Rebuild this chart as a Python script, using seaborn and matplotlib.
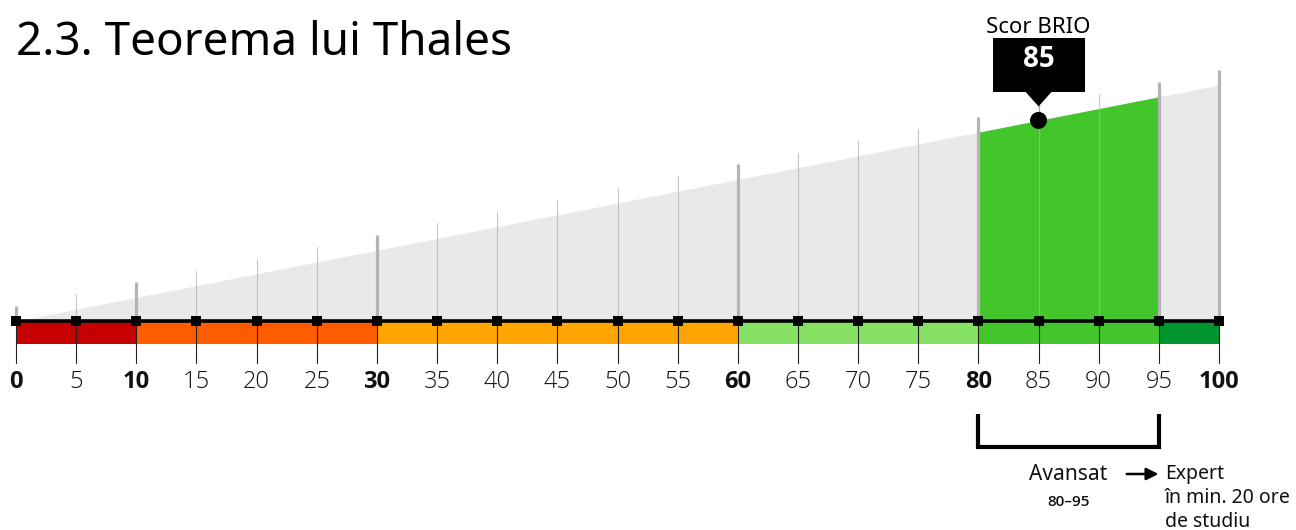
import numpy as np
import matplotlib
matplotlib.use("Agg")
import matplotlib.pyplot as plt
import matplotlib.patches as mpatches
import seaborn as sns

sns.set_theme(style="white")
plt.rcParams['font.family'] = ['Open Sans', 'DejaVu Sans']
FONT_TEXT = ['Noto Sans', 'Open Sans', 'DejaVu Sans']

# date grafic
titlu = "2.3. Teorema lui Thales"
ticks = [0, 5, 10, 15, 20, 25, 30, 35, 40, 45, 50, 55, 60, 65, 70, 75, 80, 85, 90, 95, 100]
linii_groase = [0, 10, 30, 60, 80, 95, 100]
etichete_bold = [0, 10, 30, 60, 80, 100]
praguri = [0, 10, 30, 60, 80, 95, 100]
culori_praguri = ['#c60000', '#ff5c00', '#ffa400', '#85e063', '#42c62c', '#00952f']
scor = 85
nivel_min, nivel_max = 80, 95
nivel_nume = "Avansat"
nivel_urmator = ["Expert", "în min. 20 ore", "de studiu"]

# scara: x 0..100 -> px 16..1219, y 2.36 px / unitate, baza la px 321
px_x = 100 / 1203
px_y = 1 / 2.36

fig = plt.figure(figsize=(12.96, 5.3), dpi=100)
ax = fig.add_axes([0, 0, 1, 1])
ax.set_xlim(-16 * px_x, 100 + 77 * px_x)
ax.set_ylim(-(530 - 321) * px_y, 321 * px_y)
ax.axis('off')

x = np.array(ticks, dtype=float)

# triunghiul gri si zona verde
ax.fill_between(x, 0, x, color='#e9e9e9', lw=0, zorder=1)
xv = np.array([nivel_min, nivel_max], dtype=float)
ax.fill_between(xv, 0, xv, color='#42c62c', lw=0, zorder=2)

# linii verticale
ext = 15 * px_y
for t in ticks:
    if t in linii_groase:
        ax.plot([t, t], [0, t + ext], color='#b4b4b4', lw=2.3, zorder=3, solid_capstyle='butt')
    else:
        ax.plot([t, t], [0, t + ext], color='#b0b0b0', lw=0.8, alpha=0.7, zorder=3)

# banda colorata
h_banda = 23 * px_y
for i, c in enumerate(culori_praguri):
    ax.add_patch(mpatches.Rectangle((praguri[i], -h_banda), praguri[i + 1] - praguri[i], h_banda,
                                    facecolor=c, lw=0, zorder=2))

# liniute sub axa
for t in ticks:
    ax.plot([t, t], [0, -42 * px_y], color='#222222', lw=0.8, zorder=4)

# axa neagra cu marcaje
sns.lineplot(x=ticks, y=[0] * len(ticks), ax=ax, color='black', lw=2.6, marker='s',
             markersize=6.5, markeredgewidth=0, zorder=5, legend=False)

# etichete
for t in ticks:
    ax.text(t, -67 * px_y, str(t), ha='center', va='baseline', fontsize=17, color='#111111',
            fontweight='bold' if t in etichete_bold else 'light', zorder=6)

# scor
sns.scatterplot(x=[scor], y=[scor], ax=ax, color='black', s=150, edgecolor='none', zorder=7, legend=False)
bw = 92 * px_x
ax.plot([scor, scor], [scor, scor + 28 * px_y], color='#999999', lw=0.8, zorder=6)
ax.add_patch(mpatches.Rectangle((scor - bw / 2, scor + 28 * px_y), bw, 54 * px_y, facecolor='black', lw=0, zorder=7))
ax.add_patch(mpatches.Polygon([[scor - 13 * px_x, scor + 28.5 * px_y], [scor + 13 * px_x, scor + 28.5 * px_y],
                               [scor, scor + 14 * px_y]], closed=True, facecolor='black', lw=0, zorder=7))
ax.text(scor, scor + 53 * px_y, str(scor), ha='center', va='baseline', color='white',
        fontsize=20, fontweight='bold', zorder=8)
ax.text(scor, scor + 87 * px_y, "Scor BRIO", ha='center', va='baseline', color='black',
        fontsize=16, family=FONT_TEXT, zorder=8)

# paranteza nivel
y_sus, y_jos = -93 * px_y, -126 * px_y
ax.plot([nivel_min, nivel_min, nivel_max, nivel_max], [y_sus, y_jos, y_jos, y_sus], color='black',
        lw=3, solid_joinstyle='miter', solid_capstyle='butt', zorder=6)
xm = (nivel_min + nivel_max) / 2
ax.text(xm, -159 * px_y, nivel_nume, ha='center', va='baseline', fontsize=15, family=FONT_TEXT, color='#111111')
ax.text(xm, -185 * px_y, f"{nivel_min}–{nivel_max}", ha='center', va='baseline', fontsize=11,
        fontweight='semibold', color='#111111')
ax.annotate("", xy=(nivel_max + 0.2, -153 * px_y), xytext=(nivel_max - 2.9, -153 * px_y),
            arrowprops=dict(arrowstyle='-|>,head_length=0.6,head_width=0.3', color='black', lw=1.8))
for i, linie in enumerate(nivel_urmator):
    ax.text(nivel_max + 0.5, (-158 - 24 * i) * px_y, linie, ha='left', va='baseline', fontsize=14,
            family=FONT_TEXT, color='#111111')

fig.text(16 / 1296, 1 - 55 / 530, titlu, ha='left', va='baseline', fontsize=33, family=FONT_TEXT,
         color='black')

fig.savefig('out.png', dpi=100)
